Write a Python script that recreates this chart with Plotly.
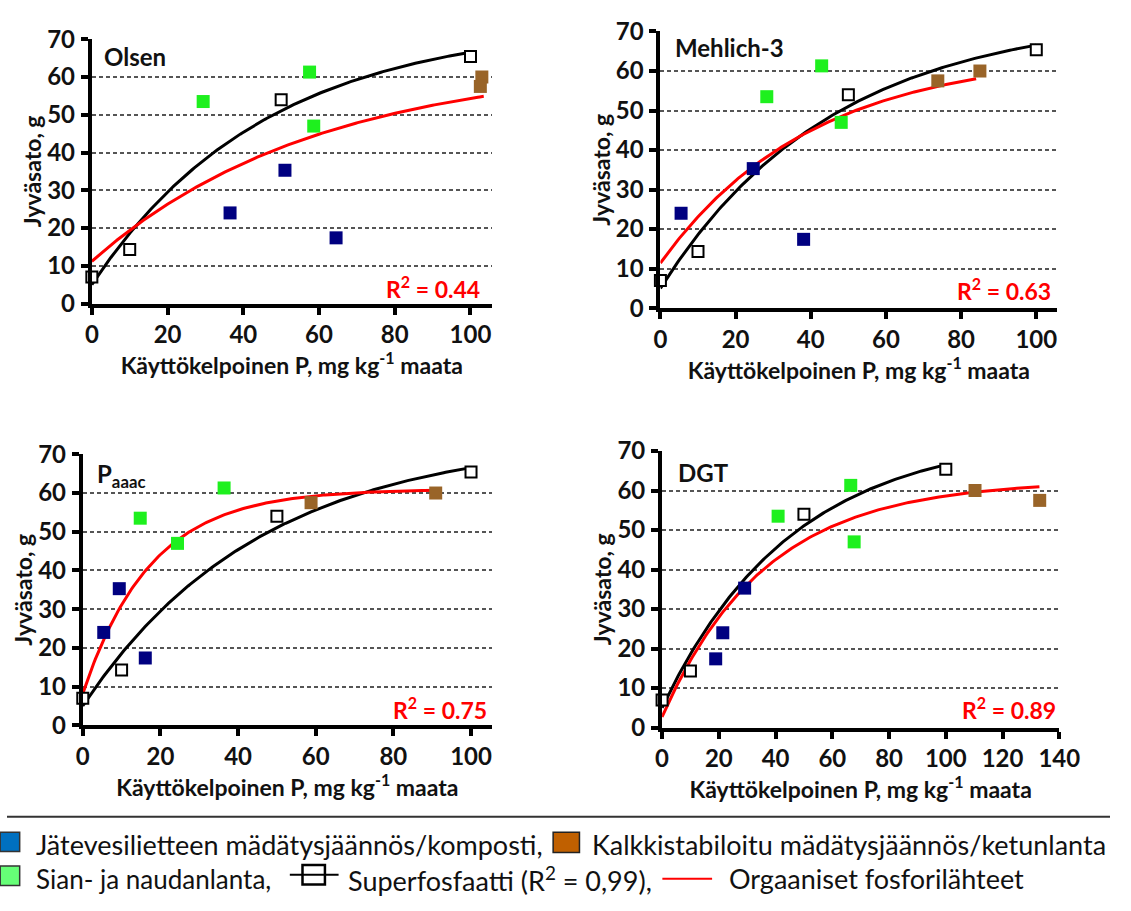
import numpy as np
import plotly.graph_objects as go

W, H = 1131, 911

# ---------------- data ----------------
# Superphosphate (open squares) – same in every panel
super_x = [0, 10, 50, 100]
super_y = [7.0, 14.3, 54.0, 65.4]

# Organic sources: yields (same in every panel), x differs by extraction method
blue_y = [24.0, 35.3, 17.4]
green_y = [53.5, 61.3, 47.0]
brown_y = [60.0, 57.5]

olsen_blue_x = [36.5, 51.0, 64.5]
olsen_green_x = [29.4, 57.5, 58.6]
olsen_brown_x = [103.0, 102.6]

mehlich_blue_x = [5.5, 24.7, 38.1]
mehlich_green_x = [28.3, 42.9, 48.1]
mehlich_brown_x = [85.0, 73.8]

paaac_blue_x = [5.4, 9.4, 16.1]
paaac_green_x = [14.8, 36.4, 24.4]
paaac_brown_x = [90.9, 58.8]

dgt_blue_x = [21.4, 29.1, 18.9]
dgt_green_x = [40.9, 66.5, 67.7]
dgt_brown_x = [110.3, 133.1]

# Fitted exponential rise-to-maximum curves: (y0, ymax, k, xmax)
super_fit = (5.0, 74.4, 0.0218, 100)
olsen_fit = (11.2, 64.2, 0.0168, 103.5)
mehlich_fit = (11.4, 64.6, 0.0249, 84.0)
paaac_fit = (8.2, 61.0, 0.057, 92.0)
dgt_fit = (2.7, 62.5, 0.0274, 133.0)

r2_labels = ["0.44", "0.63", "0.75", "0.89"]
panel_titles = ["Olsen", "Mehlich-3", "P<sub>aaac</sub>", "DGT"]
x_ranges = [[0, 105.6], [0, 105.6], [0, 105.4], [0, 140]]
x_dticks = [20, 20, 20, 20]

# ---------------- styling ----------------
BLUE = "#000080"
GREEN = "#1EF01E"
BROWN = "#996428"
RED = "#FF0000"
FONT = "Lato"


def curve(fit):
    y0, ymax, k, xmax = fit
    xs = np.linspace(0, xmax, 200)
    return xs, y0 + (ymax - y0) * (1 - np.exp(-k * xs))


def px_x(p):
    return p / W


def px_y(p):
    return 1 - p / H


# domains in pixel coordinates: (left, right, top, bottom)
dom_px = [
    (87, 497, 24, 297),
    (670, 1077, 16, 301.7),
    (77.7, 497.3, 452.7, 732.7),
    (671.7, 1079, 449.3, 735),
]

panels = [
    (olsen_blue_x, olsen_green_x, olsen_brown_x, olsen_fit),
    (mehlich_blue_x, mehlich_green_x, mehlich_brown_x, mehlich_fit),
    (paaac_blue_x, paaac_green_x, paaac_brown_x, paaac_fit),
    (dgt_blue_x, dgt_green_x, dgt_brown_x, dgt_fit),
]

fig = go.Figure()
layout = dict(
    width=W, height=H,
    margin=dict(l=0, r=0, t=0, b=0),
    paper_bgcolor="white", plot_bgcolor="white",
    showlegend=False,
    font=dict(family=FONT, color="#111"),
)
annotations = []
shapes = []

for i, (bx, gx, brx, fit) in enumerate(panels):
    n = "" if i == 0 else str(i + 1)
    xa, ya = "x" + n, "y" + n
    l, r, t, b = dom_px[i]
    axis_common = dict(
        showline=True, linewidth=4, linecolor="black",
        ticks="outside", ticklen=7, tickwidth=3.5, tickcolor="black",
        tickfont=dict(family=FONT, size=24, color="#111", weight="bold"),
        zeroline=False,
    )
    layout["xaxis" + n] = dict(
        domain=[px_x(l), px_x(r)], anchor=ya, range=x_ranges[i],
        dtick=x_dticks[i], tick0=0, showgrid=False,
        title=dict(text="Käyttökelpoinen P, mg kg<sup>-1</sup> maata",
                   font=dict(family=FONT, size=23, color="#111", weight="bold"),
                   standoff=4),
        **axis_common,
    )
    layout["yaxis" + n] = dict(
        domain=[px_y(b), px_y(t)], anchor=xa, range=[0, 70], dtick=10,
        showgrid=True, gridcolor="#555", gridwidth=1.6, griddash="4px,3px",
        ticklabelstandoff=1,
        title=dict(text="Jyväsato, g",
                   font=dict(family=FONT, size=23, color="#111", weight="bold"),
                   standoff=0),
        **axis_common,
    )

    sx, sy = curve(super_fit)
    fig.add_trace(go.Scatter(x=sx, y=sy, mode="lines", xaxis=xa, yaxis=ya,
                             line=dict(color="black", width=3)))
    ox, oy = curve(fit)
    fig.add_trace(go.Scatter(x=ox, y=oy, mode="lines", xaxis=xa, yaxis=ya,
                             line=dict(color=RED, width=3)))
    fig.add_trace(go.Scatter(x=super_x, y=super_y, mode="markers", xaxis=xa, yaxis=ya,
                             cliponaxis=False,
                             marker=dict(symbol="square", size=11, color="white",
                                         line=dict(color="black", width=2))))
    fig.add_trace(go.Scatter(x=bx, y=blue_y, mode="markers", xaxis=xa, yaxis=ya,
                             cliponaxis=False,
                             marker=dict(symbol="square", size=13, color=BLUE,
                                         line=dict(width=0))))
    fig.add_trace(go.Scatter(x=gx, y=green_y, mode="markers", xaxis=xa, yaxis=ya,
                             cliponaxis=False,
                             marker=dict(symbol="square", size=13, color=GREEN,
                                         line=dict(width=0))))
    fig.add_trace(go.Scatter(x=brx, y=brown_y, mode="markers", xaxis=xa, yaxis=ya,
                             cliponaxis=False,
                             marker=dict(symbol="square", size=13, color=BROWN,
                                         line=dict(width=0))))

# panel titles
title_pos = [(97, 42), (683, 33), (90, 475), (686, 472)]
for (x, y), txt in zip(title_pos, panel_titles):
    annotations.append(dict(x=px_x(x), y=px_y(y), xref="paper", yref="paper",
                            xanchor="left", yanchor="middle", showarrow=False,
                            text=txt, font=dict(family=FONT, size=24, color="#111",
                                                weight="bold")))
# R2 labels
r2_pos = [(487, 280), (1073, 283), (494, 715), (1078, 715)]
for (x, y), txt in zip(r2_pos, r2_labels):
    annotations.append(dict(x=px_x(x), y=px_y(y), xref="paper", yref="paper",
                            xanchor="right", yanchor="middle", showarrow=False,
                            text="R<sup>2</sup> = " + txt,
                            font=dict(family=FONT, size=23, color=RED, weight="bold")))

# ---------------- bottom legend ----------------
shapes.append(dict(type="line", xref="paper", yref="paper",
                   x0=0, x1=1, y0=px_y(827), y1=px_y(827),
                   line=dict(color="#333", width=2)))
legend_boxes = [
    (-7, 13, 843, 863, "#0070C0", "#333"),
    (560, 587, 843, 864, "#C06000", "#222"),
    (-7, 13, 878, 898, "#66FF77", "#333"),
]
for x0, x1, y0, y1, fc, lc in legend_boxes:
    shapes.append(dict(type="rect", xref="paper", yref="paper",
                       x0=px_x(x0), x1=px_x(x1), y0=px_y(y0), y1=px_y(y1),
                       fillcolor=fc, line=dict(color=lc, width=1.5)))
# superphosphate symbol (line passing through an open square)
shapes.append(dict(type="line", xref="paper", yref="paper",
                   x0=px_x(290), x1=px_x(340), y0=px_y(887), y1=px_y(887),
                   line=dict(color="black", width=2)))
shapes.append(dict(type="rect", xref="paper", yref="paper",
                   x0=px_x(303), x1=px_x(326), y0=px_y(877), y1=px_y(897),
                   fillcolor="rgba(0,0,0,0)", line=dict(color="black", width=2.5)))
# organic line
shapes.append(dict(type="line", xref="paper", yref="paper",
                   x0=px_x(672), x1=px_x(723), y0=px_y(891), y1=px_y(891),
                   line=dict(color=RED, width=2)))

legend_texts = [
    (28, 856, "Jätevesilietteen mädätysjäännös/komposti,", 27),
    (598, 856, "Kalkkistabiloitu mädätysjäännös/ketunlanta", 27),
    (28, 891, "Sian- ja naudanlanta,", 26),
    (348, 891, "Superfosfaatti (R<sup>2</sup> = 0,99),", 27),
    (738, 891, "Orgaaniset fosforilähteet", 27),
]
for x, y, txt, fs in legend_texts:
    annotations.append(dict(x=px_x(x), y=px_y(y), xref="paper", yref="paper",
                            xanchor="left", yanchor="middle", showarrow=False,
                            text=txt, font=dict(family=FONT, size=fs, color="#111")))

layout["annotations"] = annotations
layout["shapes"] = shapes
fig.update_layout(**layout)
fig.write_html("out.html")
